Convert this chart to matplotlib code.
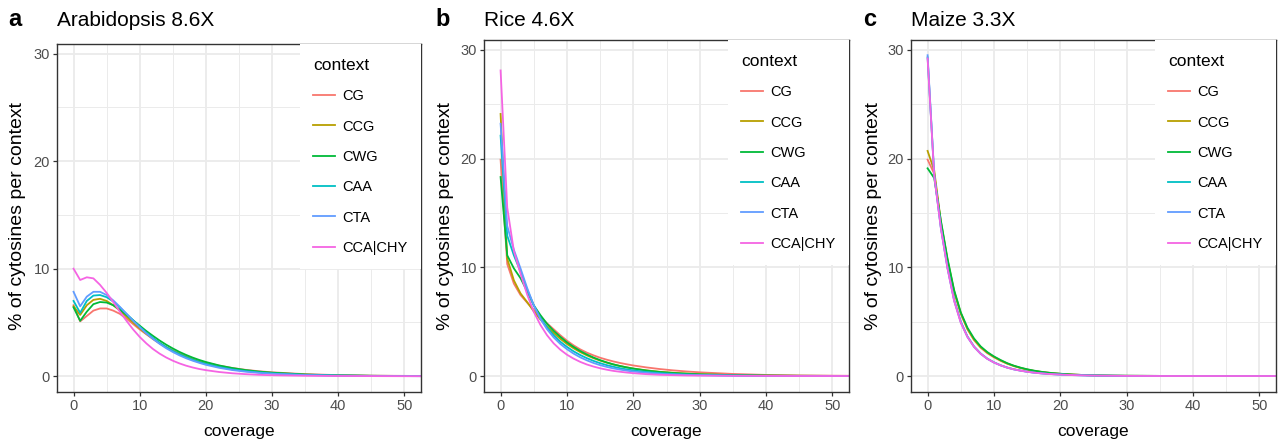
import matplotlib
matplotlib.use('Agg')
import matplotlib.pyplot as plt
from matplotlib.ticker import MultipleLocator

FONT = 'Liberation Sans'

# ---- data ----
contexts = ['CG', 'CCG', 'CWG', 'CAA', 'CTA', 'CCA|CHY']
colors = ['#F8766D', '#B79F00', '#00BA38', '#00BFC4', '#619CFF', '#F564E3']

coverage = [0, 1, 2, 3, 4, 5, 6, 7, 8, 9, 10, 11, 12, 13, 14, 15, 16, 17, 18, 19, 20,
            22, 24, 26, 28, 30, 35, 40, 45, 50, 55]

# Arabidopsis 8.6X
arab_cg  = [6.6, 5.1, 5.6, 6.1, 6.3, 6.3, 6.1, 5.8, 5.35, 4.85, 4.35, 3.9, 3.45, 3.05, 2.7, 2.4,
            2.1, 1.85, 1.62, 1.43, 1.26, 0.98, 0.76, 0.59, 0.46, 0.36, 0.19, 0.1, 0.05, 0.03, 0.01]
arab_ccg = [6.5, 5.7, 6.6, 7.1, 7.2, 7.0, 6.6, 6.1, 5.55, 5.0, 4.45, 3.95, 3.5, 3.08, 2.7, 2.37,
            2.07, 1.81, 1.58, 1.38, 1.2, 0.91, 0.69, 0.52, 0.39, 0.3, 0.14, 0.07, 0.03, 0.02, 0.01]
arab_cwg = [6.4, 5.15, 6.0, 6.7, 6.9, 6.85, 6.6, 6.2, 5.7, 5.2, 4.7, 4.2, 3.75, 3.32, 2.93, 2.58,
            2.26, 1.98, 1.73, 1.51, 1.32, 1.0, 0.76, 0.57, 0.43, 0.33, 0.16, 0.08, 0.04, 0.02, 0.01]
arab_caa = [7.0, 5.9, 7.0, 7.5, 7.55, 7.35, 6.95, 6.4, 5.8, 5.2, 4.6, 4.05, 3.55, 3.1, 2.7, 2.35,
            2.04, 1.77, 1.53, 1.32, 1.14, 0.85, 0.63, 0.47, 0.35, 0.26, 0.12, 0.06, 0.03, 0.01, 0.0]
arab_cta = [7.85, 6.5, 7.4, 7.85, 7.85, 7.55, 7.05, 6.45, 5.8, 5.15, 4.55, 3.98, 3.47, 3.01, 2.6, 2.25,
            1.94, 1.67, 1.44, 1.24, 1.06, 0.78, 0.57, 0.42, 0.31, 0.23, 0.1, 0.05, 0.02, 0.01, 0.0]
arab_cca = [10.0, 8.95, 9.2, 9.1, 8.5, 7.75, 6.9, 6.0, 5.15, 4.35, 3.65, 3.05, 2.53, 2.1, 1.74, 1.44,
            1.19, 0.98, 0.81, 0.67, 0.56, 0.39, 0.27, 0.19, 0.13, 0.09, 0.04, 0.02, 0.01, 0.0, 0.0]

# Rice 4.6X
rice_cg  = [19.9, 10.3, 8.5, 7.45, 6.75, 6.1, 5.45, 4.85, 4.3, 3.75, 3.25, 2.82, 2.45, 2.15, 1.9, 1.68,
            1.5, 1.34, 1.2, 1.08, 0.97, 0.79, 0.64, 0.52, 0.42, 0.34, 0.19, 0.1, 0.05, 0.03, 0.01]
rice_ccg = [24.1, 10.8, 8.8, 7.6, 6.8, 5.95, 5.2, 4.55, 3.95, 3.42, 2.95, 2.55, 2.2, 1.9, 1.64, 1.42,
            1.23, 1.06, 0.92, 0.8, 0.69, 0.52, 0.39, 0.3, 0.23, 0.17, 0.08, 0.04, 0.02, 0.01, 0.0]
rice_cwg = [18.3, 11.1, 9.9, 9.0, 7.8, 6.5, 5.6, 4.8, 4.15, 3.6, 3.1, 2.68, 2.3, 1.98, 1.7, 1.46,
            1.25, 1.07, 0.92, 0.79, 0.68, 0.5, 0.37, 0.28, 0.21, 0.16, 0.08, 0.04, 0.02, 0.01, 0.0]
rice_caa = [22.1, 12.9, 11.1, 9.6, 7.95, 6.5, 5.35, 4.45, 3.75, 3.15, 2.68, 2.27, 1.93, 1.64, 1.39, 1.18,
            1.0, 0.85, 0.72, 0.61, 0.52, 0.37, 0.27, 0.19, 0.14, 0.1, 0.05, 0.02, 0.01, 0.0, 0.0]
rice_cta = [23.2, 13.8, 11.6, 9.9, 8.1, 6.5, 5.25, 4.3, 3.55, 2.95, 2.47, 2.06, 1.72, 1.44, 1.2, 1.0,
            0.84, 0.7, 0.59, 0.49, 0.41, 0.29, 0.2, 0.14, 0.1, 0.07, 0.03, 0.01, 0.0, 0.0, 0.0]
rice_cca = [28.1, 15.5, 11.5, 9.4, 7.5, 5.9, 4.7, 3.75, 3.0, 2.42, 1.96, 1.6, 1.3, 1.06, 0.87, 0.71,
            0.58, 0.47, 0.39, 0.32, 0.26, 0.17, 0.11, 0.08, 0.05, 0.04, 0.02, 0.01, 0.0, 0.0, 0.0]

# Maize 3.3X
maize_cg  = [19.9, 18.6, 14.1, 10.6, 7.7, 5.7, 4.3, 3.3, 2.6, 2.1, 1.72, 1.4, 1.13, 0.91, 0.73, 0.59,
             0.47, 0.38, 0.31, 0.25, 0.2, 0.13, 0.08, 0.05, 0.03, 0.02, 0.01, 0.0, 0.0, 0.0, 0.0]
maize_ccg = [20.7, 18.9, 14.2, 10.7, 7.8, 5.8, 4.35, 3.35, 2.65, 2.15, 1.76, 1.43, 1.15, 0.93, 0.75, 0.6,
             0.48, 0.39, 0.31, 0.25, 0.2, 0.13, 0.08, 0.05, 0.03, 0.02, 0.01, 0.0, 0.0, 0.0, 0.0]
maize_cwg = [19.1, 18.2, 14.3, 10.8, 7.9, 5.85, 4.45, 3.45, 2.72, 2.2, 1.8, 1.47, 1.18, 0.95, 0.77, 0.62,
             0.5, 0.4, 0.32, 0.26, 0.21, 0.13, 0.08, 0.05, 0.03, 0.02, 0.01, 0.0, 0.0, 0.0, 0.0]
maize_caa = [29.3, 18.5, 13.7, 10.0, 7.0, 5.0, 3.65, 2.72, 2.07, 1.6, 1.26, 0.99, 0.78, 0.62, 0.5, 0.4,
             0.32, 0.26, 0.21, 0.17, 0.14, 0.09, 0.06, 0.04, 0.03, 0.02, 0.01, 0.0, 0.0, 0.0, 0.0]
maize_cta = [29.5, 18.5, 13.6, 9.9, 6.95, 4.95, 3.6, 2.68, 2.04, 1.58, 1.24, 0.98, 0.77, 0.61, 0.49, 0.39,
             0.31, 0.25, 0.2, 0.16, 0.13, 0.08, 0.05, 0.03, 0.02, 0.01, 0.0, 0.0, 0.0, 0.0, 0.0]
maize_cca = [29.2, 18.4, 13.6, 9.9, 6.9, 4.9, 3.6, 2.68, 2.04, 1.58, 1.24, 0.98, 0.77, 0.61, 0.49, 0.39,
             0.31, 0.25, 0.2, 0.16, 0.13, 0.08, 0.05, 0.03, 0.02, 0.01, 0.0, 0.0, 0.0, 0.0, 0.0]

panels = [
    ('a', 'Arabidopsis 8.6X', [arab_cg, arab_ccg, arab_cwg, arab_caa, arab_cta, arab_cca]),
    ('b', 'Rice 4.6X', [rice_cg, rice_ccg, rice_cwg, rice_caa, rice_cta, rice_cca]),
    ('c', 'Maize 3.3X', [maize_cg, maize_ccg, maize_cwg, maize_caa, maize_cta, maize_cca]),
]

# ---- layout (pixels) ----
W, H = 1278, 446
boxes = [(57, 421, 44, 392), (484, 849, 40, 392), (911, 1276, 40, 392)]  # left, right, top, bottom
label_x = [15, 443, 870]
ylab_x = [18, 446, 873]
GRID = '#EBEBEB'
DARK = '#333333'
TICKTXT = '#4D4D4D'

plt.rcParams['font.family'] = FONT
fig = plt.figure(figsize=(W / 100, H / 100), dpi=100, facecolor='white')

for i, (tag, title, series) in enumerate(panels):
    l, r, t, b = boxes[i]
    ax = fig.add_axes([l / W, 1 - b / H, (r - l) / W, (b - t) / H])
    handles = []
    for name, col, vals in zip(contexts, colors, series):
        h, = ax.plot(coverage, vals, color=col, lw=1.3, label=name, solid_joinstyle='round')
        handles.append(h)

    ax.set_xlim(-2.5, 52.5)
    ax.set_ylim(-1.47, 30.9)
    ax.xaxis.set_major_locator(MultipleLocator(10))
    ax.xaxis.set_minor_locator(MultipleLocator(5))
    ax.yaxis.set_major_locator(MultipleLocator(10))
    ax.yaxis.set_minor_locator(MultipleLocator(5))
    ax.grid(which='major', color=GRID, lw=1.3)
    ax.grid(which='minor', color=GRID, lw=0.7)
    ax.set_axisbelow(True)
    for s in ax.spines.values():
        s.set_color(DARK)
        s.set_linewidth(1.0)
    ax.tick_params(which='major', length=3, width=0.9, color=DARK, labelcolor=TICKTXT,
                   labelsize=10.5, pad=2)
    ax.tick_params(which='minor', length=0)

    ax.set_xlabel('coverage', fontsize=12.5, labelpad=8)
    fig.text(ylab_x[i] / W, 1 - 216 / H, '% of cytosines per context', rotation=90,
             ha='center', va='center', fontsize=14)

    leg = ax.legend(handles=handles, title='context', loc='upper right',
                    bbox_to_anchor=(1, 1), borderaxespad=0, frameon=True,
                    fancybox=False, framealpha=1, facecolor='white', edgecolor='none',
                    prop={'size': 10.5}, title_fontproperties={'size': 12.5},
                    alignment='left', handlelength=1.5, handletextpad=0.45,
                    labelspacing=1.12, borderpad=0.95)

    fig.text(label_x[i] / W, 1 - 20 / H, tag, ha='center', va='center',
             fontsize=17, fontweight='bold')
    fig.text(l / W, 1 - 20 / H, title, ha='left', va='center', fontsize=15)

fig.savefig('out.png', dpi=100, facecolor='white')
